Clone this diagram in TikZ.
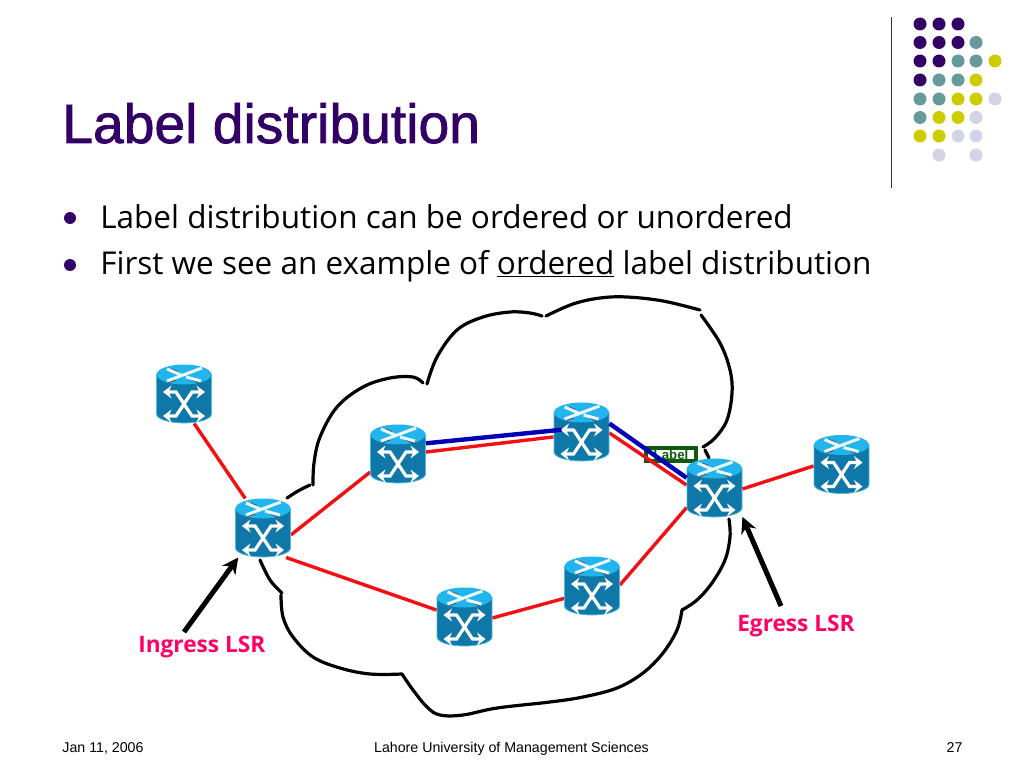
\documentclass[tikz,border=0pt]{standalone}
\usepackage{fontspec}
\setmainfont{Liberation Sans}
\newfontfamily\handfont{Open Sans}
\newfontfamily\titlefont[FakeBold=1.4]{Liberation Sans}
\usetikzlibrary{arrows.meta,calc}
\definecolor{slidepurple}{HTML}{330066}
\definecolor{dotteal}{HTML}{669999}
\definecolor{dotyellow}{HTML}{CCCC00}
\definecolor{dotlilac}{HTML}{D3D3E8}
\definecolor{routerside}{HTML}{0F78A8}
\definecolor{routertop}{HTML}{22B4EC}
\definecolor{routeredge}{HTML}{4FB8E4}
\definecolor{lsrpink}{HTML}{FF0066}
\definecolor{labelgreen}{HTML}{0F5A0F}
\definecolor{linkred}{HTML}{F40F14}
\definecolor{linkblue}{HTML}{0000B4}
\begin{document}
\begin{tikzpicture}[x=0.025cm, y=-0.025cm,
  router/.style={minimum width=1.38cm, minimum height=1.46cm, inner sep=0pt},
  cloudline/.style={line width=0.08cm, line cap=round},
  redlink/.style={draw=linkred, line width=0.085cm},
  bluelink/.style={draw=linkblue, line width=0.11cm},
  lsrarr/.style={-{Stealth[length=4mm, width=4mm]}, line width=0.125cm},
  bodytext/.style={anchor=base west, inner sep=0pt, font=\handfont\fontsize{22.4}{26}\selectfont},
  lsrtext/.style={anchor=base west, inner sep=0pt, text=lsrpink, font=\handfont\bfseries\fontsize{16.1}{19}\selectfont},
  foot/.style={anchor=base, inner sep=0pt, font=\fontsize{10.1}{12}\selectfont},
  labelbox/.style={draw=labelgreen, line width=0.105cm, fill=white, minimum width=1.25cm, minimum height=0.34cm, inner sep=0pt, text=labelgreen, font=\bfseries\fontsize{9.4}{10}\selectfont},
  routericon/.pic={
    \path[fill=routerside, draw=routeredge, line width=0.02cm] (-27.5,-19.5) -- (-27.5,20) arc[start angle=180, end angle=0, x radius=27.5, y radius=9] -- (27.5,-19.5) -- cycle;
    \fill[routertop] (0,-19.5) ellipse[x radius=27.5, y radius=10];
    \draw[black!70, line width=0.025cm] (-16,-11.5) -- (-8,-14) (7,-14.5) -- (15,-11) (-13,-25) -- (-6,-22.5);
    \draw[white!90!routertop, line width=0.075cm] (-17,-13) -- (18,-26) (-17,-25) -- (-3,-19) (2,-17) -- (17,-13);
    \draw[white, line width=0.08cm, {Stealth[length=2.1mm, width=3.2mm]}-{Stealth[length=2.1mm, width=3.2mm]}] (-21,-2) -- (-8,-2) -- (8,22) -- (21,22);
    \draw[white, line width=0.08cm, {Stealth[length=2.1mm, width=3.2mm]}-{Stealth[length=2.1mm, width=3.2mm]}] (21,-2) -- (8,-2) -- (-8,22) -- (-21,22);
  }
]
  \useasboundingbox (0,0) rectangle (1024,768);

  \draw[black!80, line width=0.04cm] (891.5,17) -- (891.5,188);
  \foreach \px/\py in {920/24,939/24,958/24,920/42.5,939/42.5,958/42.5,920/61,939/61,920/80}
    \fill[slidepurple] (\px,\py) circle[radius=6.5];
  \foreach \px/\py in {976/42.5,958/61,976/61,939/80,958/80,920/99,939/99,920/117.5}
    \fill[dotteal] (\px,\py) circle[radius=6.5];
  \foreach \px/\py in {995/61,976/80,958/99,976/99,939/117.5,958/117.5,920/136,939/136}
    \fill[dotyellow] (\px,\py) circle[radius=6.5];
  \foreach \px/\py in {995/99,976/117.5,958/136,976/136,939/155,976/155}
    \fill[dotlilac] (\px,\py) circle[radius=6.5];

  \node[anchor=base west, inner sep=0pt, text=slidepurple, font=\titlefont\fontsize{39.3}{44}\selectfont] (title) at (62,143) {Label distribution};
  \fill[slidepurple] (70,218) circle[radius=6];
  \fill[slidepurple] (70,265) circle[radius=6];
  \node[bodytext] (line1) at (100,228) {Label distribution can be ordered or unordered};
  \node[bodytext] (line2) at (100,274) {First we see an example of \underline{ordered} label distribution};

  \draw[cloudline] plot[smooth, tension=0.6] coordinates {(287,498) (298,491) (310,485)};
  \draw[cloudline] plot[smooth, tension=0.6] coordinates {(313,485) (314,463) (320,437) (337,407) (363,387) (390,378) (413,377) (423,383)};
  \draw[cloudline] plot[smooth, tension=0.6] coordinates {(427,384) (437,357) (457,330) (483,317) (510,312) (530,313) (542,316)};
  \draw[cloudline] plot[smooth, tension=0.6] coordinates {(546,316) (573,304) (600,298) (627,297) (663,301) (700,310)};
  \draw[cloudline] plot[smooth, tension=0.6] coordinates {(701,315) (720,343) (730,370) (732,393) (727,420) (715,438) (703,447)};
  \draw[cloudline] (705,450) -- (709,458);
  \draw[cloudline] plot[smooth, tension=0.6] coordinates {(729,519) (730,537) (725,560) (712,583) (697,600) (682,610)};
  \draw[cloudline] plot[smooth, tension=0.6] coordinates {(682,610) (677,630) (663,653) (643,673) (617,688) (583,697) (550,702) (497,708) (463,715) (440,715) (427,707) (413,690) (402,674)};
  \draw[cloudline] plot[smooth, tension=0.6] coordinates {(402,674) (370,674) (340,668) (313,657) (293,637) (283,617) (281,595)};
  \draw[cloudline] plot[smooth, tension=0.6] coordinates {(282,593) (270,580) (260,560)};

  \node[labelbox] (tag) at (671,454.5) {Label};

  \node[router] (edgetl) at (184,394) {};
  \node[router] (ingress) at (263,528) {};
  \node[router] (coreup) at (398,454) {};
  \node[router] (coretop) at (581.5,432) {};
  \node[router] (egress) at (714.5,488) {};
  \node[router] (edger) at (841.5,464.5) {};
  \node[router] (corelow) at (464.5,617) {};
  \node[router] (coremid) at (592,586) {};

  \draw[redlink] (edgetl.-71) -- (ingress.121);
  \draw[redlink] (ingress.-14) -- (coreup.-147);
  \draw[redlink] (ingress.-52) -- (corelow.166);
  \draw[redlink] (coreup.4) -- (coretop.190);
  \draw[redlink] (coretop.-2) -- (egress.174);
  \draw[redlink] (egress.-2) -- (edger.183);
  \draw[redlink] (egress.215) -- (coremid.2);
  \draw[redlink] (corelow.-2) -- (coremid.204);

  \foreach \rname in {edgetl,ingress,coreup,coretop,egress,edger,corelow,coremid}
    \pic at (\rname) {routericon};

  \draw[bluelink, shorten >=-0.2cm] (coreup.21) -- (coretop.177);
  \draw[bluelink] (coretop.17) -- (egress.160);

  \node[lsrtext] (inglabel) at (138,652) {Ingress LSR};
  \node[lsrtext] (egrlabel) at (737,631) {Egress LSR};
  \coordinate (ingtail) at (184,632);
  \coordinate (egrtail) at (781,606);
  \draw[lsrarr] (ingtail) -- (ingress.230);
  \draw[lsrarr] (egrtail) -- (egress.-46);

  \node[foot] (fdate) at (103,752.5) {Jan 11, 2006};
  \node[foot] (fname) at (511.5,752.5) {Lahore University of Management Sciences};
  \node[foot] (fnum) at (954.5,752.5) {27};
\end{tikzpicture}
\end{document}
